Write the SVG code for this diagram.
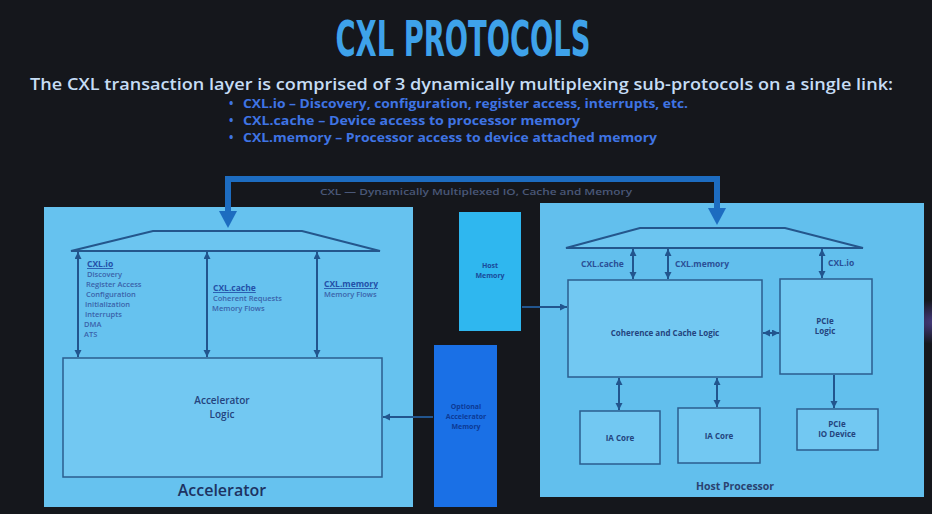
<svg xmlns="http://www.w3.org/2000/svg" width="932" height="514" viewBox="0 0 932 514">
<defs>
<style>
.panel{fill:#66c2ef;}
.box{fill:#72c8f2;stroke:#2b5d8f;stroke-width:1.5;}
.trap{fill:#6cc5f0;stroke:#24568c;stroke-width:2;}
.lnk{stroke:#22558e;stroke-width:2;fill:none;}
.bus{stroke:#1d6cc0;stroke-width:6;fill:none;}
.h{font-family:"Open Sans","Noto Sans",sans-serif;font-weight:700;font-size:8.5px;fill:#2350a8;text-decoration:underline;}
.b{font-family:"Open Sans","Noto Sans",sans-serif;font-weight:600;font-size:7.5px;fill:#3a62aa;}
.lbl{font-family:"Open Sans","Noto Sans",sans-serif;font-weight:700;font-size:8px;fill:#24447e;text-anchor:middle;}
.rl{font-family:"Open Sans","Noto Sans",sans-serif;font-weight:700;font-size:8.5px;fill:#2a4f96;}
.bl{font-family:"Open Sans","Noto Sans",sans-serif;font-weight:700;font-size:11.5px;fill:#3f74e4;}
</style>
<marker id="ah" markerUnits="userSpaceOnUse" markerWidth="8" markerHeight="8" refX="7" refY="3.5" orient="auto-start-reverse">
<path d="M0,0 L7,3.5 L0,7 z" fill="#22558e"/>
</marker>
<marker id="big" markerUnits="userSpaceOnUse" markerWidth="20" markerHeight="20" refX="1" refY="9" orient="auto">
<path d="M0,0 L17,9 L0,18 z" fill="#1d6cc0"/>
</marker>
<radialGradient id="glow" cx="0.5" cy="0.5" r="0.5">
<stop offset="0" stop-color="#5a4aa8" stop-opacity="0.7"/>
<stop offset="1" stop-color="#5a4aa8" stop-opacity="0"/>
</radialGradient>
</defs>
<rect x="0" y="0" width="932" height="514" fill="#15171c"/>
<ellipse cx="935" cy="322" rx="40" ry="22" fill="url(#glow)"/>

<g id="title">
<text x="463" y="56" text-anchor="middle" textLength="255" lengthAdjust="spacingAndGlyphs" style="font-family:'DejaVu Sans Condensed','Liberation Sans Narrow','DejaVu Sans',sans-serif;font-stretch:condensed;font-weight:700;font-size:49px;fill:#3ea2ea;">CXL PROTOCOLS</text>
<text x="30" y="90" textLength="863" lengthAdjust="spacingAndGlyphs" style="font-family:'Open Sans','Noto Sans',sans-serif;font-weight:600;font-size:17px;fill:#c6ddf5;">The CXL transaction layer is comprised of 3 dynamically multiplexing sub-protocols on a single link:</text>
<text class="bl" x="229" y="108">•</text>
<text class="bl" x="243" y="108" textLength="445" lengthAdjust="spacingAndGlyphs">CXL.io – Discovery, configuration, register access, interrupts, etc.</text>
<text class="bl" x="229" y="125">•</text>
<text class="bl" x="243" y="125" textLength="337" lengthAdjust="spacingAndGlyphs">CXL.cache  – Device access to processor memory</text>
<text class="bl" x="229" y="142">•</text>
<text class="bl" x="243" y="142" textLength="414" lengthAdjust="spacingAndGlyphs">CXL.memory – Processor access to device attached memory</text>
</g>

<g id="accelerator">
<rect class="panel" x="44" y="207" width="369" height="300"/>
<text x="222" y="496" text-anchor="middle" style="font-family:'Open Sans','Noto Sans',sans-serif;font-weight:600;font-size:16px;fill:#1d3262;">Accelerator</text>
</g>
<g id="acc-mux">
<polygon class="trap" points="153,231 302,231 380,251 71,251"/>
</g>
<g id="acc-labels">
<text class="h" x="87" y="267">CXL.io</text>
<text class="b" x="87" y="277">Discovery</text>
<text class="b" x="86" y="287">Register Access</text>
<text class="b" x="86" y="297">Configuration</text>
<text class="b" x="85" y="307">Initialization</text>
<text class="b" x="85" y="317">Interrupts</text>
<text class="b" x="84" y="327">DMA</text>
<text class="b" x="84" y="337">ATS</text>
<text class="h" x="213" y="291">CXL.cache</text>
<text class="b" x="213" y="301">Coherent Requests</text>
<text class="b" x="212" y="311">Memory Flows</text>
<text class="h" x="324" y="287">CXL.memory</text>
<text class="b" x="324" y="297">Memory Flows</text>
</g>
<g id="acc-logic">
<rect class="box" x="63" y="358" width="319" height="119"/>
<text class="lbl" x="222" y="404" style="font-size:10px;font-weight:600;">Accelerator</text>
<text class="lbl" x="222" y="418" style="font-size:10px;font-weight:600;">Logic</text>
</g>

<g id="host-memory">
<rect x="459" y="212" width="62" height="119" fill="#2fb7ef"/>
<text class="lbl" x="490" y="268" style="font-size:7px;fill:#1a4a9a;">Host</text>
<text class="lbl" x="490" y="278" style="font-size:7px;fill:#1a4a9a;">Memory</text>
</g>
<g id="optional-memory">
<rect x="434" y="345" width="63" height="162" fill="#1a70e6"/>
<text class="lbl" x="466" y="409" style="font-size:7px;fill:#0c3a96;">Optional</text>
<text class="lbl" x="466" y="419" style="font-size:7px;fill:#0c3a96;">Accelerator</text>
<text class="lbl" x="466" y="429" style="font-size:7px;fill:#0c3a96;">Memory</text>
</g>

<g id="host-processor">
<rect class="panel" x="540" y="203" width="384" height="294" style="fill:#62bfed;"/>
<text x="735" y="490" text-anchor="middle" style="font-family:'Open Sans','Noto Sans',sans-serif;font-weight:700;font-size:10.5px;fill:#2a4270;">Host Processor</text>
</g>
<g id="host-mux">
<polygon class="trap" points="640,228 785,228 863,248 566,248"/>
</g>
<g id="host-labels">
<text class="rl" x="581" y="267">CXL.cache</text>
<text class="rl" x="675" y="267">CXL.memory</text>
<text class="rl" x="828" y="266">CXL.io</text>
</g>
<g id="coherence">
<rect class="box" x="568" y="280" width="194" height="97"/>
<text class="lbl" x="665" y="336">Coherence and Cache Logic</text>
</g>
<g id="pcie-logic">
<rect class="box" x="780" y="279" width="92" height="95"/>
<text class="lbl" x="825" y="324">PCIe</text>
<text class="lbl" x="825" y="334">Logic</text>
</g>
<g id="ia-core-1">
<rect class="box" x="580" y="411" width="80" height="53"/>
<text class="lbl" x="620" y="441">IA Core</text>
</g>
<g id="ia-core-2">
<rect class="box" x="678" y="408" width="82" height="55"/>
<text class="lbl" x="719" y="439">IA Core</text>
</g>
<g id="pcie-io">
<rect class="box" x="797" y="409" width="81" height="41"/>
<text class="lbl" x="837" y="427">PCIe</text>
<text class="lbl" x="837" y="437">IO Device</text>
</g>

<g id="connectors">
<path class="bus" d="M228,212 L228,179 L717,179 L717,209" marker-end="url(#big)"/>
<path class="bus" d="M228,179 L228,212" marker-end="url(#big)"/>
<text x="320" y="195" textLength="312" lengthAdjust="spacingAndGlyphs" style="font-family:'Open Sans','Noto Sans',sans-serif;font-weight:600;font-size:9.5px;fill:#4a5878;">CXL  —  Dynamically Multiplexed IO, Cache and Memory</text>
<line class="lnk" x1="78" y1="252" x2="78" y2="357" marker-start="url(#ah)" marker-end="url(#ah)"/>
<line class="lnk" x1="207" y1="252" x2="207" y2="357" marker-start="url(#ah)" marker-end="url(#ah)"/>
<line class="lnk" x1="317" y1="252" x2="317" y2="357" marker-start="url(#ah)" marker-end="url(#ah)"/>
<line class="lnk" x1="633" y1="249" x2="633" y2="279" marker-start="url(#ah)" marker-end="url(#ah)"/>
<line class="lnk" x1="668" y1="249" x2="668" y2="279" marker-start="url(#ah)" marker-end="url(#ah)"/>
<line class="lnk" x1="822" y1="249" x2="822" y2="278" marker-start="url(#ah)" marker-end="url(#ah)"/>
<line class="lnk" x1="763" y1="333" x2="779" y2="333" marker-start="url(#ah)" marker-end="url(#ah)"/>
<line class="lnk" x1="619" y1="378" x2="619" y2="410" marker-start="url(#ah)" marker-end="url(#ah)"/>
<line class="lnk" x1="717" y1="378" x2="717" y2="407" marker-start="url(#ah)" marker-end="url(#ah)"/>
<line class="lnk" x1="834" y1="375" x2="834" y2="408" marker-end="url(#ah)"/>
<line class="lnk" x1="522" y1="307" x2="567" y2="307" marker-end="url(#ah)"/>
<line class="lnk" x1="433" y1="417" x2="383" y2="417" marker-end="url(#ah)"/>
</g>
</svg>
